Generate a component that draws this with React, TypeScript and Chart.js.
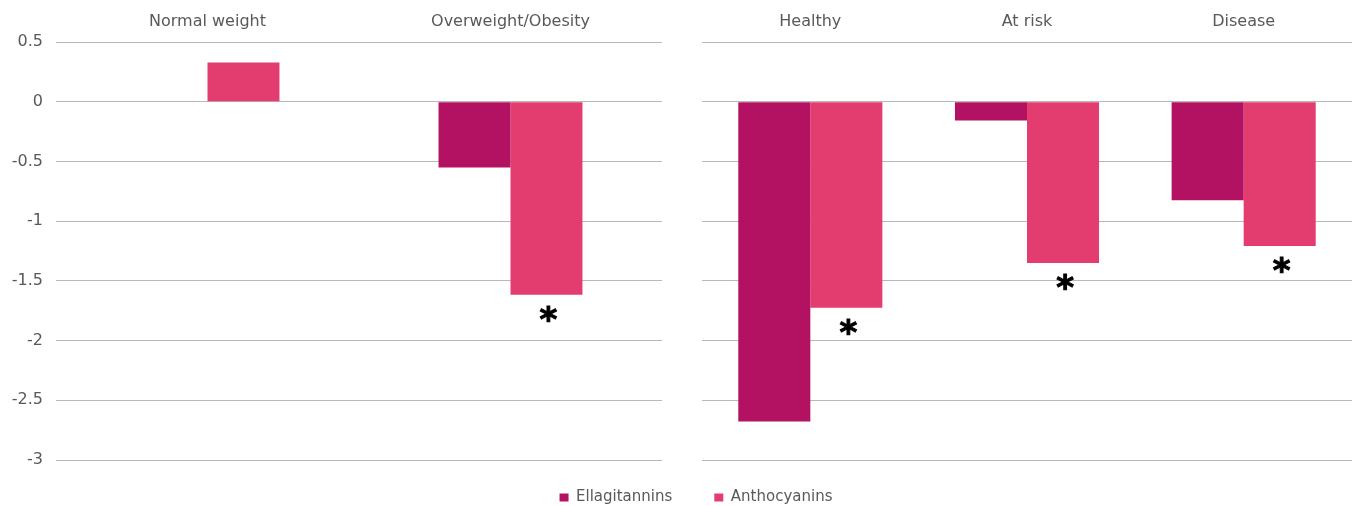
import React, { useEffect, useRef } from "react";
import { Chart, registerables } from "chart.js";

Chart.register(...registerables);

// ---- data ----
const seriesNames = ["Ellagitannins", "Anthocyanins"];
const leftCategories = ["Normal weight", "Overweight/Obesity"];
const rightCategories = ["Healthy", "At risk", "Disease"];
const leftEllagitannins: (number | null)[] = [null, -0.55];
const leftAnthocyanins: (number | null)[] = [0.328, -1.617];
const rightEllagitannins: (number | null)[] = [-2.678, -0.158, -0.825];
const rightAnthocyanins: (number | null)[] = [-1.725, -1.35, -1.208];
const leftSignificant = [false, true];
const rightSignificant = [true, true, true];
const yTicks = [0.5, 0, -0.5, -1, -1.5, -2, -2.5, -3];

// ---- style ----
const COLORS = ["#B31262", "#E33D6F"];
const TEXT = "#595959";
const GRID = "#b8b8b8";
const FAMILY = "'DejaVu Sans', sans-serif";

const asteriskPlugin = {
  id: "asterisks",
  afterDatasetsDraw(chart: any, _args: any, opts: any) {
    const flags: boolean[] = opts.flags || [];
    const meta = chart.getDatasetMeta(1);
    const ctx = chart.ctx;
    ctx.save();
    ctx.font = "bold 34px 'DejaVu Sans', sans-serif";
    ctx.fillStyle = "#000";
    ctx.strokeStyle = "#000";
    ctx.lineWidth = 1;
    ctx.textAlign = "center";
    ctx.textBaseline = "alphabetic";
    const m = ctx.measureText("*");
    const asc = m.actualBoundingBoxAscent;
    const desc = m.actualBoundingBoxDescent;
    meta.data.forEach((el: any, i: number) => {
      if (!flags[i]) return;
      const p = el.getProps(["x", "y"], true);
      const cy = p.y + 19;
      const baseline = cy - (desc - asc) / 2;
      ctx.fillText("*", p.x + 2, baseline);
      ctx.strokeText("*", p.x + 2, baseline);
    });
    ctx.restore();
  },
};

function makeConfig(
  labels: string[],
  ell: (number | null)[],
  anth: (number | null)[],
  flags: boolean[],
  showY: boolean,
  catPct: number
): any {
  return {
    type: "bar",
    data: {
      labels,
      datasets: [
        {
          label: seriesNames[0],
          data: ell,
          backgroundColor: COLORS[0],
          categoryPercentage: catPct,
          barPercentage: 1,
        },
        {
          label: seriesNames[1],
          data: anth,
          backgroundColor: COLORS[1],
          categoryPercentage: catPct,
          barPercentage: 1,
        },
      ],
    },
    plugins: [asteriskPlugin],
    options: {
      responsive: false,
      animation: false,
      layout: { padding: { top: 0, left: 0, right: 0, bottom: 10 } },
      plugins: {
        legend: { display: false },
        tooltip: { enabled: false },
        asterisks: { flags },
      },
      scales: {
        x: {
          position: "top",
          grid: { display: false, drawTicks: false },
          border: { display: false },
          ticks: {
            color: TEXT,
            font: { family: FAMILY, size: 16 },
            padding: 11,
            maxRotation: 0,
            autoSkip: false,
          },
          afterFit: (s: any) => {
            s.height = 42;
            s.paddingLeft = 0;
            s.paddingRight = 0;
          },
        },
        y: {
          min: -3,
          max: 0.5,
          afterBuildTicks: (s: any) => {
            s.ticks = yTicks.map((v) => ({ value: v }));
          },
          grid: { color: GRID, lineWidth: 1, drawTicks: false },
          border: { display: false },
          ticks: {
            display: showY,
            color: TEXT,
            font: { family: FAMILY, size: 16 },
            padding: 13,
            callback: (v: any) => String(v),
          },
          afterFit: (s: any) => {
            s.width = showY ? 56 : 0;
            s.paddingTop = 0;
            s.paddingBottom = 0;
          },
        },
      },
    },
  };
}

function legendConfig(): any {
  return {
    type: "bar",
    data: {
      labels: [],
      datasets: seriesNames.map((n, i) => ({
        label: n,
        data: [],
        backgroundColor: COLORS[i],
      })),
    },
    options: {
      responsive: false,
      animation: false,
      layout: { padding: { left: 37 } },
      plugins: {
        tooltip: { enabled: false },
        legend: {
          display: true,
          position: "top",
          onClick: () => {},
          labels: {
            color: TEXT,
            font: { family: FAMILY, size: 15 },
            boxWidth: 9,
            boxHeight: 8,
            padding: 42,
          },
        },
      },
      scales: { x: { display: false }, y: { display: false } },
    },
  };
}

export default function App() {
  const leftRef = useRef<HTMLCanvasElement>(null);
  const rightRef = useRef<HTMLCanvasElement>(null);
  const legRef = useRef<HTMLCanvasElement>(null);

  useEffect(() => {
    const charts: Chart[] = [];
    if (leftRef.current)
      charts.push(
        new Chart(
          leftRef.current,
          makeConfig(leftCategories, leftEllagitannins, leftAnthocyanins, leftSignificant, true, 0.475)
        )
      );
    if (rightRef.current)
      charts.push(
        new Chart(
          rightRef.current,
          makeConfig(rightCategories, rightEllagitannins, rightAnthocyanins, rightSignificant, false, 0.665)
        )
      );
    if (legRef.current) charts.push(new Chart(legRef.current, legendConfig()));
    return () => charts.forEach((c) => c.destroy());
  }, []);

  return (
    <div
      style={{
        position: "fixed",
        left: 0,
        top: 0,
        width: 1355,
        height: 506,
        background: "#fff",
        overflow: "hidden",
      }}
    >
      <canvas ref={leftRef} width={662} height={470} style={{ position: "absolute", left: 0, top: 0 }} />
      <canvas ref={rightRef} width={650} height={470} style={{ position: "absolute", left: 702, top: 0 }} />
      <canvas
        ref={legRef}
        width={1355}
        height={240}
        style={{ position: "absolute", left: 0, top: 448, pointerEvents: "none" }}
      />
    </div>
  );
}
